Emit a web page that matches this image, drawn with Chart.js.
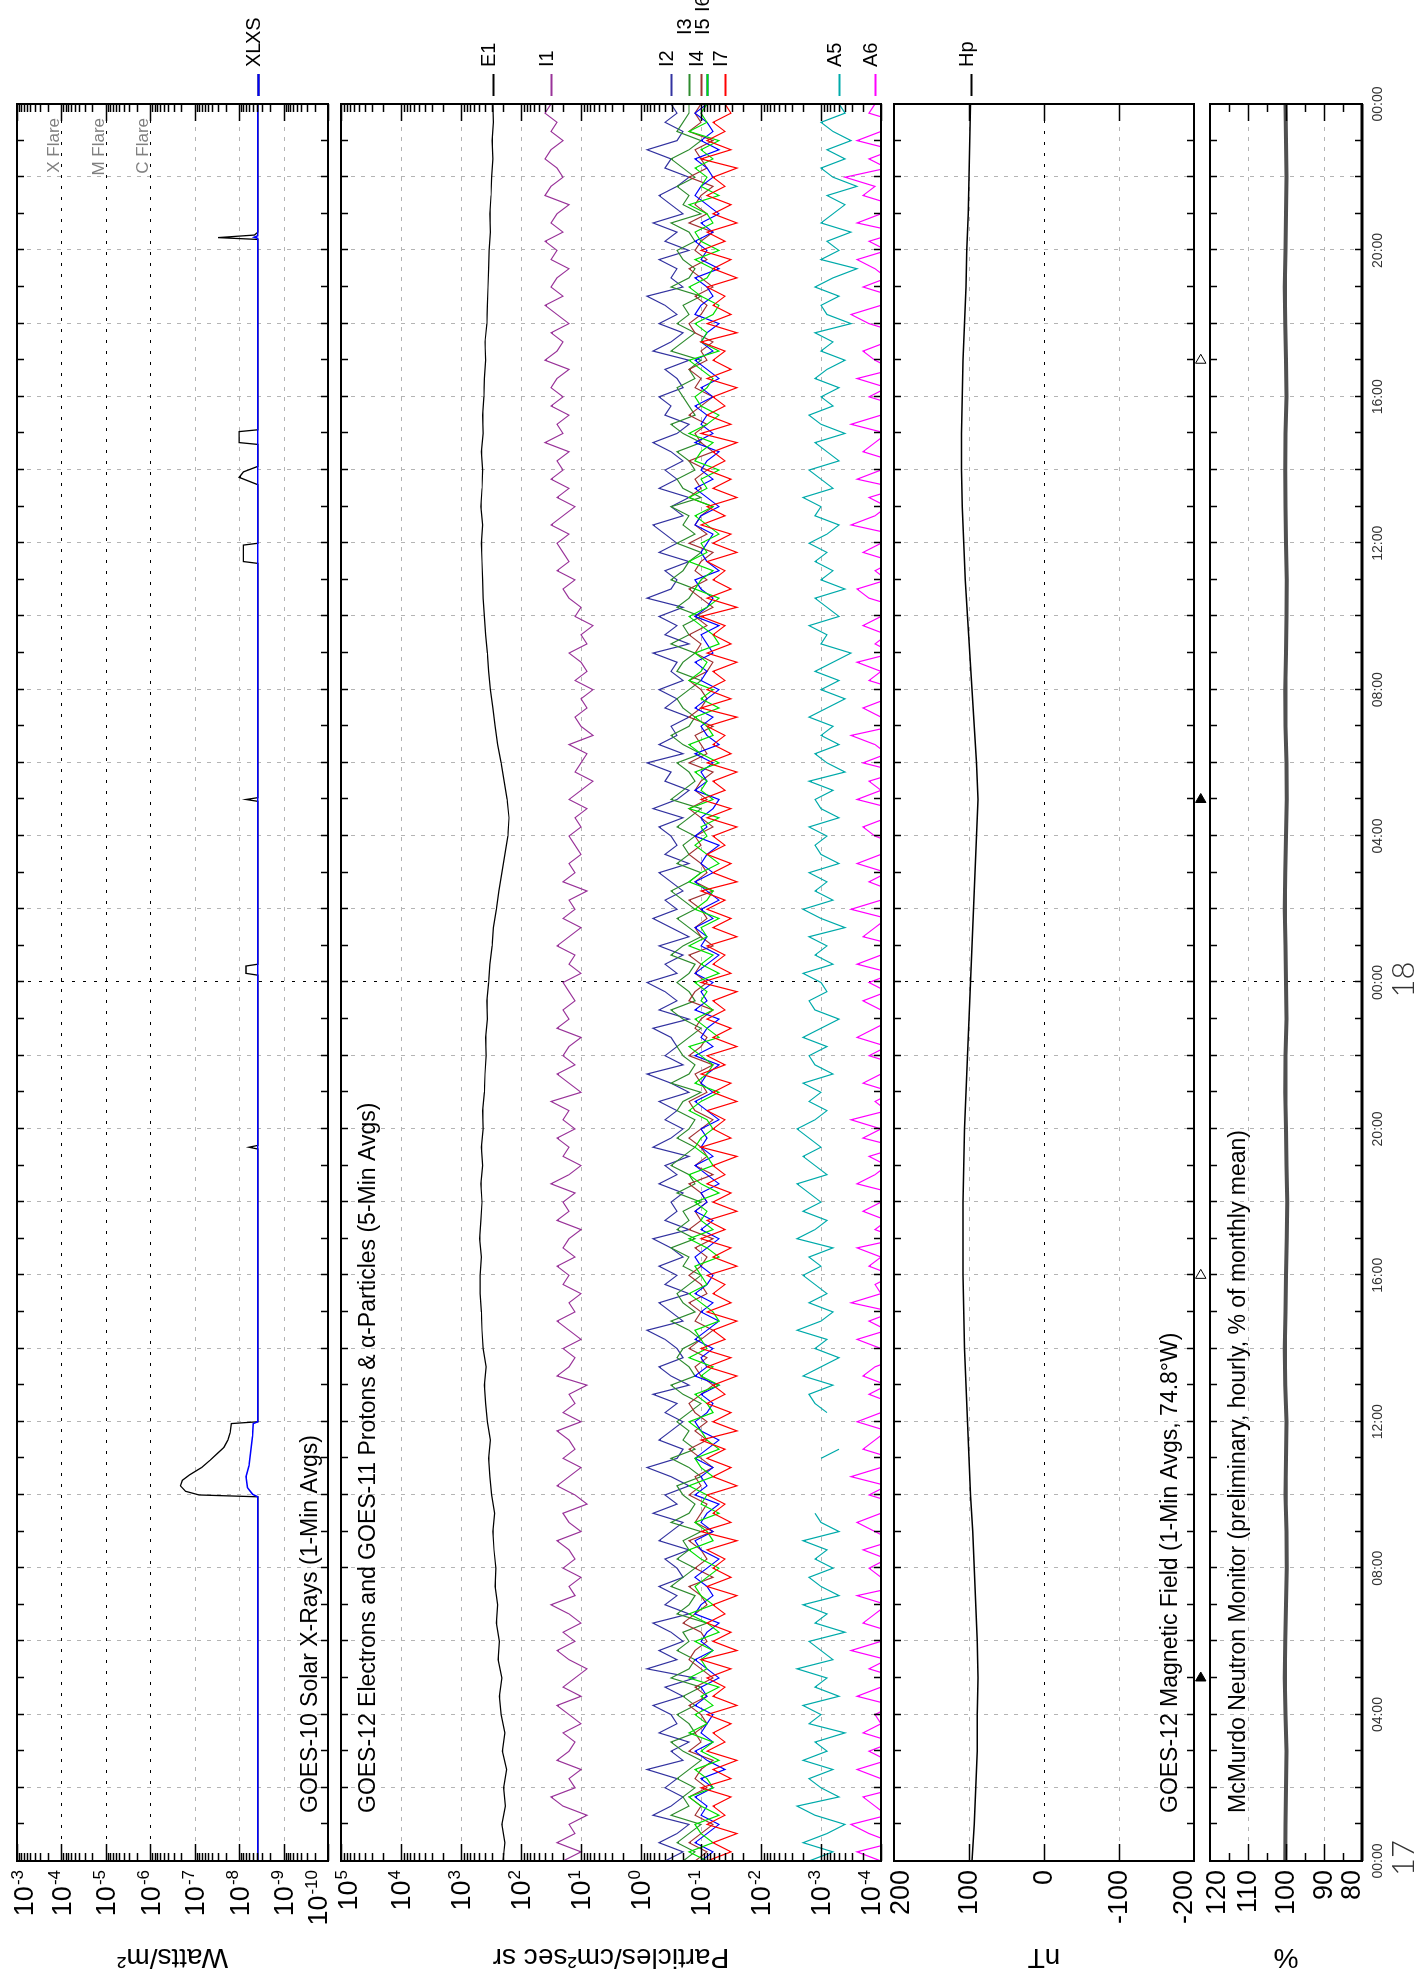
<!DOCTYPE html>
<html>
<head>
<meta charset="utf-8">
<title>GOES Space Environment Monitor</title>
<script src="https://cdn.jsdelivr.net/npm/chart.js@4/dist/chart.umd.min.js"></script>
<style>
  html, body { margin: 0; padding: 0; background: #fff; }
  /* the chart is laid out landscape, then turned a quarter turn left */
  #frame {
    position: absolute; left: 0; top: 0;
    width: 1976px; height: 1416px;
    transform-origin: 0 0;
    transform: translate(0px, 1976px) rotate(-90deg);
    background: #fff; overflow: hidden;
  }
  #frame canvas { position: absolute; left: 0; top: 0; }
</style>
</head>
<body>
<div id="frame">
  <canvas id="c-xray" width="1976" height="1416"></canvas>
  <canvas id="c-part" width="1976" height="1416"></canvas>
  <canvas id="c-mag" width="1976" height="1416"></canvas>
  <canvas id="c-neut" width="1976" height="1416"></canvas>
</div>
<script>
/* ---- data (time in hours from 00:00 UT on day 17) ---- */

const PARTICLE_STEP = 0.25;   // hours between particle samples
const E1_STEP = 0.5;
const HOURLY_STEP = 1;

// GOES-10 X-rays, W/m2
const xlHours = [0, 9.95, 10.0, 10.1, 10.25, 10.4, 10.55, 10.75, 10.95, 11.15, 11.3, 11.5, 11.7, 11.95, 12.0,
  19.45, 19.5, 19.55, 24.2, 24.25, 24.45, 24.5, 28.95, 29.0, 29.05,
  35.45, 35.5, 35.95, 36.0, 37.6, 37.8, 37.95, 38.1, 38.7, 38.75, 39.05, 39.1, 44.3, 44.35, 44.42, 44.5, 48];
const xlFlux = [3.8e-9, 3.8e-9, 8e-8, 1.6e-7, 2.1e-7, 1.9e-7, 1.3e-7, 7e-8, 4.5e-8, 3e-8, 2.2e-8, 1.8e-8, 1.6e-8, 1.5e-8, 3.8e-9,
  3.8e-9, 6e-9, 3.8e-9, 3.8e-9, 7e-9, 7e-9, 3.8e-9, 3.8e-9, 7e-9, 3.8e-9,
  3.8e-9, 8e-9, 8e-9, 3.8e-9, 3.8e-9, 1e-8, 8e-9, 3.8e-9, 3.8e-9, 1e-8, 1e-8, 3.8e-9, 3.8e-9, 3e-8, 4.5e-9, 3.8e-9, 3.8e-9];
const xsHours = [0, 9.95, 10.02, 10.2, 10.5, 10.8, 11.2, 11.6, 11.95, 12.0, 44.33, 44.36, 44.4, 48];
const xsFlux = [3.8e-9, 3.8e-9, 5e-9, 6.5e-9, 7e-9, 6e-9, 5.5e-9, 5e-9, 4.8e-9, 3.8e-9, 3.8e-9, 4.6e-9, 3.8e-9, 3.8e-9];

// E1 electrons, log10 x 100, every 30 min
const e1Log100 = [
  230,227,232,226,229,224,231,227, 233,236,232,238,236,241,239,243,
  242,245,247,244,249,252,254,251, 256,259,261,258,263,265,266,268,
  268,266,269,267,265,267,264,266, 263,264,261,260,258,259,256,257,
  254,252,248,246,241,237,232,227, 222,220,223,228,233,239,243,247,
  251,254,256,259,261,263,264,265, 266,264,267,265,264,266,263,264,
  262,261,259,260,257,256,255,254, 253,251,252,250,249,247,248,246,
  247];

// protons and alphas, log10 x 10, every 15 min
const i1Log10 = [
  13,10,14,11,12,9,13,15,11,12,10,14,12,11,13,10,
  12,14,10,13,11,9,12,14,11,13,10,12,15,11,12,10,
  13,11,12,14,10,12,13,9,11,14,12,10,13,11,12,14,
  10,13,11,12,9,14,12,11,13,10,12,14,11,12,10,13,
  12,14,11,13,12,10,14,12,13,11,15,12,10,13,12,14,
  11,13,12,15,10,12,14,11,13,12,10,14,12,13,11,12,
  13,10,12,11,14,12,10,13,11,12,9,13,11,12,10,11,
  12,10,11,9,12,10,8,11,10,9,12,8,10,11,9,10,
  8,11,9,10,12,9,10,8,11,10,12,13,11,14,12,13,
  14,12,15,13,11,14,12,15,13,14,12,16,13,14,12,15,
  13,15,14,12,16,14,13,15,12,14,16,13,15,14,12,15,
  14,16,13,15,14,12,16,15,13,14,16,15,13,15,14,16,
  15];
const i2Log10 = [
  -4,-7,-3,-6,-8,-2,-5,-7,-4,-6,-1,-7,-5,-8,-3,-6,
  -5,-2,-7,-4,-9,-1,-6,-3,-7,-5,-2,-8,-4,-6,-3,-7,
  -6,-4,-8,-3,-5,-7,-2,-6,-4,-8,-5,-1,-6,-7,-3,-5,
  -7,-4,-6,-2,-8,-5,-3,-7,-6,-4,-1,-7,-5,-3,-8,-4,
  -6,-3,-7,-5,-2,-8,-4,-6,-5,-7,-3,-6,-4,-8,-2,-5,
  -7,-4,-6,-3,-8,-5,-1,-7,-4,-6,-5,-2,-8,-3,-6,-4,
  -1,-6,-4,-7,-3,-8,-5,-2,-6,-4,-7,-5,-3,-8,-4,-6,
  -5,-3,-7,-2,-6,-8,-4,-5,-1,-7,-3,-6,-5,-8,-4,-6,
  -3,-7,-5,-6,-2,-8,-4,-6,-3,-7,-1,-5,-6,-4,-8,-3,
  -6,-4,-2,-7,-5,-8,-3,-6,-4,-7,-5,-2,-6,-8,-4,-5,
  -3,-7,-6,-4,-8,-2,-5,-7,-3,-6,-4,-1,-7,-5,-6,-3,
  -8,-4,-6,-2,-7,-5,-3,-6,-8,-4,-5,-1,-6,-7,-4,-6,
  -5];
const i3Log10 = [
  -7,-9,-6,-8,-10,-5,-8,-7,-9,-6,-8,-10,-7,-5,-9,-8,
  -6,-9,-7,-10,-5,-8,-9,-6,-8,-7,-11,-6,-8,-9,-5,-7,
  -9,-6,-8,-7,-10,-5,-8,-9,-7,-6,-10,-8,-5,-9,-7,-8,
  -6,-8,-10,-7,-5,-9,-8,-6,-7,-10,-8,-5,-9,-7,-6,-8,
  -10,-7,-8,-5,-9,-6,-8,-7,-10,-6,-9,-8,-5,-7,-9,-6,
  -8,-9,-6,-7,-10,-5,-8,-9,-7,-6,-8,-10,-7,-5,-9,-8,
  -6,-8,-9,-5,-7,-10,-8,-6,-9,-7,-5,-8,-10,-6,-8,-7,
  -9,-6,-8,-10,-5,-7,-9,-8,-6,-10,-7,-5,-8,-9,-7,-6,
  -8,-10,-6,-7,-9,-5,-8,-7,-10,-6,-8,-9,-5,-7,-8,-10,
  -6,-9,-7,-8,-5,-10,-7,-6,-9,-8,-6,-10,-7,-5,-9,-8,
  -7,-6,-9,-8,-10,-5,-7,-9,-6,-8,-7,-10,-5,-8,-9,-7,
  -6,-9,-8,-5,-10,-7,-8,-6,-9,-7,-5,-8,-10,-6,-7,-8,
  -8];
const i4Log10 = [
  -9,-11,-8,-10,-12,-9,-10,-8,-11,-9,-10,-12,-8,-10,-9,-11,
  -10,-8,-11,-9,-12,-10,-8,-9,-11,-10,-7,-9,-11,-10,-8,-12,
  -9,-11,-10,-8,-12,-9,-10,-11,-8,-10,-9,-12,-10,-8,-11,-9,
  -11,-9,-8,-10,-12,-10,-9,-11,-8,-10,-12,-9,-10,-8,-11,-10,
  -8,-10,-11,-9,-12,-8,-10,-9,-11,-10,-8,-12,-9,-11,-10,-8,
  -10,-12,-9,-8,-11,-10,-9,-12,-8,-10,-11,-9,-10,-12,-8,-9,
  -11,-9,-10,-8,-12,-10,-9,-11,-10,-8,-12,-9,-11,-10,-8,-10,
  -9,-12,-10,-8,-11,-9,-10,-12,-8,-11,-10,-9,-12,-8,-10,-11,
  -10,-8,-11,-12,-9,-10,-8,-11,-9,-12,-10,-8,-11,-9,-10,-12,
  -8,-11,-9,-10,-12,-8,-10,-9,-11,-8,-12,-10,-9,-11,-8,-10,
  -12,-9,-10,-8,-11,-10,-12,-9,-8,-10,-11,-9,-12,-10,-8,-11,
  -9,-10,-12,-8,-11,-9,-10,-12,-8,-11,-10,-9,-12,-8,-10,-9,
  -10];
const i5Log10 = [
  -10,-12,-9,-11,-13,-10,-11,-9,-12,-10,-14,-11,-9,-12,-10,-11,
  -12,-9,-11,-10,-13,-11,-9,-12,-10,-11,-13,-9,-10,-12,-11,-9,
  -11,-13,-10,-9,-12,-10,-11,-13,-9,-11,-10,-12,-9,-11,-13,-10,
  -9,-11,-12,-10,-13,-9,-11,-10,-12,-9,-11,-13,-10,-12,-9,-11,
  -12,-10,-9,-11,-13,-10,-12,-9,-11,-10,-13,-11,-9,-12,-10,-11,
  -10,-13,-11,-9,-12,-10,-11,-13,-9,-12,-10,-11,-13,-9,-11,-10,
  -12,-9,-11,-13,-10,-11,-9,-12,-10,-13,-11,-9,-12,-10,-11,-13,
  -9,-11,-10,-12,-13,-9,-11,-10,-12,-9,-13,-11,-10,-12,-9,-11,
  -13,-10,-11,-9,-12,-11,-10,-13,-9,-11,-12,-10,-9,-13,-11,-10,
  -11,-12,-9,-10,-13,-11,-9,-12,-10,-11,-13,-9,-12,-10,-11,-9,
  -12,-10,-13,-11,-9,-12,-10,-11,-13,-9,-10,-12,-11,-9,-13,-10,
  -11,-9,-12,-10,-13,-11,-9,-10,-12,-11,-9,-13,-10,-12,-11,-9,
  -11];
const i6Log10 = [
  -11,-8,-12,-10,-9,-13,-10,-8,-12,-11,-9,-13,-10,-12,-8,-11,
  -9,-12,-10,-13,-8,-11,-10,-12,-9,-13,-11,-8,-12,-10,-9,-11,
  -13,-10,-8,-12,-11,-9,-13,-10,-11,-8,-12,-10,-9,-13,-11,-10,
  -8,-12,-11,-9,-13,-10,-12,-8,-11,-10,-9,-13,-12,-10,-8,-11,
  -10,-9,-13,-11,-8,-12,-10,-11,-9,-13,-10,-8,-12,-11,-9,-10,
  -12,-11,-8,-10,-13,-9,-11,-12,-10,-8,-13,-11,-9,-12,-10,-11,
  -9,-13,-10,-12,-8,-11,-10,-13,-9,-11,-12,-8,-10,-13,-11,-9,
  -11,-10,-13,-8,-12,-10,-11,-9,-13,-10,-8,-12,-11,-9,-13,-10,
  -12,-8,-10,-11,-9,-13,-12,-10,-8,-11,-13,-9,-10,-12,-8,-11,
  -10,-13,-11,-9,-12,-8,-11,-10,-13,-9,-10,-12,-8,-11,-13,-10,
  -9,-11,-12,-10,-8,-13,-10,-11,-9,-12,-13,-10,-8,-11,-12,-9,
  -13,-10,-9,-12,-11,-8,-13,-10,-11,-9,-12,-10,-13,-8,-11,-10,
  -11];
const i7Log10 = [
  -11,-15,-12,-16,-11,-14,-12,-15,-10,-15,-12,-16,-11,-14,-12,-15,
  -11,-16,-12,-14,-11,-15,-10,-16,-12,-15,-11,-14,-12,-16,-11,-15,
  -12,-14,-11,-16,-10,-15,-12,-14,-11,-16,-12,-15,-11,-14,-10,-16,
  -12,-15,-11,-14,-12,-16,-11,-15,-10,-14,-12,-16,-11,-15,-12,-14,
  -11,-16,-12,-15,-10,-14,-11,-16,-12,-15,-11,-14,-12,-16,-10,-15,
  -12,-14,-11,-16,-12,-15,-10,-14,-11,-16,-12,-15,-11,-14,-12,-16,
  -10,-15,-12,-14,-11,-16,-12,-15,-11,-14,-10,-16,-12,-15,-11,-14,
  -12,-16,-11,-15,-10,-14,-12,-16,-11,-15,-12,-14,-11,-16,-10,-15,
  -11,-14,-12,-16,-11,-15,-12,-14,-10,-16,-11,-15,-12,-14,-11,-16,
  -12,-15,-10,-14,-11,-16,-12,-15,-11,-14,-12,-16,-10,-15,-11,-14,
  -12,-16,-11,-15,-12,-14,-10,-16,-11,-15,-12,-14,-11,-16,-12,-15,
  -10,-14,-11,-16,-12,-15,-11,-14,-12,-16,-10,-15,-11,-14,-12,-15,
  -14];
const a5Log10 = [
  -28,-32,-27,-31,-34,-29,-26,-33,-30,-28,-32,-27,-31,-29,-34,-28,
  -30,-27,-33,-29,-31,-26,-32,-30,-28,-34,-29,-31,-27,-33,-30,-28,
  -32,-29,-31,-27,-33,-30,-29,null,null,-31,null,null,-30,-33,null,null,
  null,-31,-29,-28,-32,-27,-30,-33,-29,-31,-26,-30,-32,-28,-31,-29,
  -27,-30,-28,-32,-26,-29,-31,-27,-30,-28,-26,-31,-29,-27,-30,-28,
  -26,-29,-31,-28,-30,-27,-32,-29,-28,-31,-27,-30,-33,-29,-28,-31,
  -30,-27,-32,-29,-31,-28,-34,-30,-27,-32,-29,-31,-28,-33,-30,-29,
  -31,-28,-33,-30,-29,-32,-28,-34,-31,-29,-33,-30,-32,-28,-31,-34,
  -30,-33,-29,-32,-35,-30,-31,-28,-33,-31,-29,-34,-30,-32,-29,-31,
  -28,-31,-33,-29,-30,-27,-32,-30,-28,-33,-31,-29,-34,-30,-28,-32,
  -30,-33,-29,-31,-34,-30,-32,-29,-35,-31,-30,-33,-29,-32,-36,-30,
  -33,-31,-35,-30,-32,-34,-31,-36,-32,-30,-34,-31,-35,-32,-30,-34,
  -33];
const a6Log10 = [
  -40,-36,-42,-38,-35,-41,-39,-37,-43,-40,-36,-41,-38,-42,-37,-40,
  -39,-42,-36,-40,-43,-38,-41,-35,-40,-42,-37,-39,-41,-36,-43,-40,
  -38,-41,-37,-42,-39,-36,-40,-43,-38,-41,-35,-40,-42,-37,-39,-41,
  -36,-40,-42,-38,-41,-37,-39,-43,-40,-36,-41,-38,-42,-35,-40,-39,
  -42,-38,-40,-36,-43,-39,-41,-37,-40,-42,-36,-39,-41,-38,-43,-37,
  -40,-35,-41,-39,-42,-37,-40,-43,-38,-41,-36,-39,-42,-40,-37,-41,
  -38,-42,-36,-40,-43,-37,-39,-41,-35,-40,-42,-38,-41,-36,-40,-43,
  -39,-37,-41,-42,-36,-40,-38,-43,-37,-41,-39,-35,-42,-40,-37,-41,
  -43,-38,-40,-36,-42,-39,-41,-37,-40,-43,-38,-36,-41,-39,-42,-37,
  -40,-42,-35,-39,-41,-38,-43,-36,-40,-42,-37,-39,-41,-35,-40,-43,
  -38,-41,-36,-42,-39,-37,-41,-43,-38,-35,-40,-42,-37,-41,-39,-36,
  -41,-38,-43,-36,-40,-42,-37,-39,-34,-41,-38,-42,-36,-40,-43,-38,
  -39];

// GOES-12 Hp, nT, hourly
const hpNT = [96,93,91,89,89,88,89,91,93,95,98,100,102,104,106,107,108,108,108,107,106,104,102,100,
  98,96,94,92,90,88,90,93,96,99,102,105,107,109,110,110,109,108,106,104,103,101,100,99,98];

// McMurdo neutron monitor, % of monthly mean, hourly
const neutronPct = [100.2,100.1,100.0,99.9,100.1,100.3,100.2,100.0,99.8,99.9,
  100.1,100.0,99.9,100.2,100.3,100.1,100.0,99.8,99.7,99.9,
  100.0,100.2,100.1,99.9,100.0,100.1,100.3,100.2,100.0,99.8,
  99.9,100.1,100.2,100.0,99.9,99.8,100.0,100.1,100.2,100.1,
  99.9,100.0,100.2,100.3,100.1,100.0,99.9,100.0,100.1];

// local midnight (filled) and noon (open) markers under the Hp panel
const midnightHours = [5, 29];
const noonHours = [16, 41];
const MARKER_NT = -209;

// axis labels
const timeTickHours = [0, 4, 8, 12, 16, 20, 24, 28, 32, 36, 40, 44, 48];
const timeTickLabels = ['00:00','04:00','08:00','12:00','16:00','20:00','00:00','04:00','08:00','12:00','16:00','20:00','00:00'];
const dayLabelHours = [0, 24];
const dayLabels = ['17', '18'];
const xrayExponents = [-3, -4, -5, -6, -7, -8, -9, -10];
const particleExponents = [5, 4, 3, 2, 1, 0, -1, -2, -3, -4];
const magTicks = [200, 100, 0, -100, -200];
const neutronTicks = [120, 110, 100, 90, 80];
const flareLevels = [1e-4, 1e-5, 1e-6];
const flareNames = ['X Flare', 'M Flare', 'C Flare'];

/* ---- layout (landscape frame, before the rotation) ---- */
const CANVAS_W = 1976, CANVAS_H = 1416;
const PLOT_LEFT = 115, PLOT_RIGHT = 1872;
const FONT = '"Liberation Sans", Arial, Helvetica, sans-serif';
const LABEL_RIGHT = 106;
const LEGEND_X = [0, 1909, 1941, 1964];

const fromTenths = v => Math.pow(10, v / 10);
const fromHundredths = v => Math.pow(10, v / 100);

function pointsFromSteps(values, step, conv) {
  return values.map((v, k) => ({ x: k * step, y: v === null ? null : conv(v) }));
}
function pointsFromHours(hours, values) {
  return hours.map((h, k) => ({ x: h, y: values[k] }));
}
function lastValue(values) {
  for (let k = values.length - 1; k >= 0; k--) { if (values[k] !== null) { return values[k]; } }
  return null;
}
function lineSet(points, color, width, order) {
  return { data: points, borderColor: color, backgroundColor: color, borderWidth: width,
    pointRadius: 0, pointHoverRadius: 0, tension: 0, spanGaps: false, order: order };
}
function strokeLine(ctx, x1, y1, x2, y2) {
  ctx.beginPath(); ctx.moveTo(x1, y1); ctx.lineTo(x2, y2); ctx.stroke();
}

function decorPlugin(d) {
  return {
    id: 'decor',
    beforeDatasetsDraw(chart) {
      const ctx = chart.ctx, a = chart.chartArea, x = chart.scales.x, y = chart.scales.y;
      ctx.save();
      ctx.lineWidth = 1;
      for (let h = 2; h < 48; h += 2) {
        const px = Math.round(x.getPixelForValue(h)) + 0.5;
        const dark = h === 24;
        ctx.strokeStyle = dark ? '#000' : '#b4b4b4';
        ctx.setLineDash(dark ? [3, 8] : [4, 6]);
        strokeLine(ctx, px, a.top, px, a.bottom);
      }
      d.grid.forEach(g => {
        const py = Math.round(y.getPixelForValue(g.v)) + 0.5;
        ctx.strokeStyle = g.dark ? '#000' : '#b4b4b4';
        ctx.setLineDash(g.dark ? [3, 8] : [4, 6]);
        strokeLine(ctx, a.left, py, a.right, py);
      });
      ctx.restore();
    },
    afterDatasetsDraw(chart) {
      const ctx = chart.ctx, a = chart.chartArea, x = chart.scales.x, y = chart.scales.y;
      ctx.save();
      ctx.setLineDash([]);
      ctx.strokeStyle = '#000';
      // hour ticks on top and bottom edges
      ctx.lineWidth = 1.5;
      for (let h = 1; h < 48; h++) {
        const px = Math.round(x.getPixelForValue(h)) + 0.5;
        strokeLine(ctx, px, a.top, px, a.top + 7);
        strokeLine(ctx, px, a.bottom, px, a.bottom - 7);
      }
      // value ticks on both sides
      const tick = (v, len) => {
        const py = Math.round(y.getPixelForValue(v)) + 0.5;
        strokeLine(ctx, a.left, py, a.left + len, py);
        strokeLine(ctx, a.right, py, a.right - len, py);
      };
      d.majors.forEach(v => tick(v, 17));
      d.minors.forEach(v => tick(v, 8));
      // frame
      ctx.lineWidth = 2;
      ctx.strokeRect(a.left, a.top, a.right - a.left, a.bottom - a.top);
      if (d.timeAxis) {
        ctx.lineWidth = 3;
        strokeLine(ctx, a.left, a.bottom, a.right, a.bottom);
      }

      // tick labels
      ctx.fillStyle = '#000';
      d.labels.forEach(lab => {
        const py = y.getPixelForValue(lab.v);
        const cy = Math.min(Math.max(py, a.top + 7), a.bottom - 10);
        if (lab.exp !== undefined) {
          ctx.font = '17px ' + FONT;
          const w = ctx.measureText(lab.exp).width;
          ctx.textAlign = 'left'; ctx.textBaseline = 'alphabetic';
          ctx.fillText(lab.exp, LABEL_RIGHT - w, cy - 1);
          ctx.font = '27px ' + FONT;
          ctx.textAlign = 'right'; ctx.textBaseline = 'middle';
          ctx.fillText('10', LABEL_RIGHT - w - 1, cy + 2);
        } else {
          ctx.font = '27px ' + FONT;
          ctx.textAlign = 'right'; ctx.textBaseline = 'middle';
          ctx.fillText(lab.text, LABEL_RIGHT, cy + 1);
        }
      });

      // axis title, reading upward
      ctx.save();
      ctx.translate(19, (a.top + a.bottom) / 2);
      ctx.rotate(-Math.PI / 2);
      ctx.font = '28px ' + FONT;
      ctx.textAlign = 'center'; ctx.textBaseline = 'middle';
      ctx.fillText(d.axisTitle, 0, 0);
      ctx.restore();

      // panel caption
      ctx.font = '23px ' + FONT;
      ctx.textAlign = 'left'; ctx.textBaseline = 'alphabetic';
      ctx.fillText(d.caption, 163, d.captionY);

      // flare class notes
      if (d.notes) {
        ctx.fillStyle = '#808080';
        ctx.font = '17px ' + FONT;
        ctx.textAlign = 'right';
        d.notes.forEach(n => ctx.fillText(n.text, 1858, Math.round(y.getPixelForValue(n.v)) - 2));
      }

      // end-of-line labels
      d.legend.forEach(l => {
        const py = Math.round(y.getPixelForValue(l.v)) + 0.5;
        ctx.strokeStyle = l.color; ctx.lineWidth = 2;
        strokeLine(ctx, 1880, py, 1902, py);
        ctx.fillStyle = '#000';
        ctx.font = '20px ' + FONT;
        ctx.textAlign = 'left'; ctx.textBaseline = 'alphabetic';
        ctx.fillText(l.text, l.x || LEGEND_X[l.level], py + 1);
      });

      // time axis text under the last panel
      if (d.timeAxis) {
        ctx.fillStyle = '#333';
        ctx.font = '14px ' + FONT;
        ctx.textAlign = 'center'; ctx.textBaseline = 'middle';
        timeTickHours.forEach((h, k) => ctx.fillText(timeTickLabels[k], x.getPixelForValue(h), 1378));
        ctx.font = '300 31px Lato, ' + FONT;
        dayLabelHours.forEach((h, k) => ctx.fillText(dayLabels[k], x.getPixelForValue(h) + 3, 1404));
      }
      ctx.restore();
    }
  };
}

function makePanel(id, top, bottom, yScale, datasets, decor) {
  return new Chart(document.getElementById(id).getContext('2d'), {
    type: 'line',
    data: { datasets: datasets },
    options: {
      responsive: false, animation: false, events: [],
      layout: { padding: { left: PLOT_LEFT, right: CANVAS_W - PLOT_RIGHT, top: top, bottom: CANVAS_H - bottom } },
      plugins: { legend: { display: false }, tooltip: { enabled: false } },
      scales: {
        x: { type: 'linear', min: 0, max: 48, display: false },
        y: Object.assign({ display: false }, yScale)
      }
    },
    plugins: [decorPlugin(decor)]
  });
}

function logMinors(fromExp, toExp) {
  const out = [];
  for (let e = fromExp; e < toExp; e++) { for (let m = 2; m <= 9; m++) { out.push(m * Math.pow(10, e)); } }
  return out;
}

/* ---- panel 1: X-rays ---- */
makePanel('c-xray', 17, 328, { type: 'logarithmic', min: 1e-10, max: 1e-3 }, [
  lineSet(pointsFromHours(xlHours, xlFlux), '#000000', 1.3, 0),
  lineSet(pointsFromHours(xsHours, xsFlux), '#0000ff', 1.6, -1)
], {
  grid: [-4, -5, -6, -7, -8, -9].map(e => ({ v: Math.pow(10, e), dark: e >= -6 })),
  majors: xrayExponents.map(e => Math.pow(10, e)),
  minors: logMinors(-10, -3),
  labels: xrayExponents.map(e => ({ v: Math.pow(10, e), exp: String(e) })),
  axisTitle: 'Watts/m\u00B2',
  caption: 'GOES-10 Solar X-Rays (1-Min Avgs)', captionY: 317,
  notes: flareLevels.map((v, k) => ({ v: v, text: flareNames[k] })),
  legend: [
    { text: 'XL', color: '#000000', v: lastValue(xlFlux), level: 1 },
    { text: 'XS', color: '#0000ff', v: lastValue(xsFlux), x: 1932 }
  ]
});

/* ---- panel 2: particles ---- */
const particleSeries = [
  { name: 'E1', color: '#000000', pts: pointsFromSteps(e1Log100, E1_STEP, fromHundredths), last: fromHundredths(lastValue(e1Log100)), level: 1 },
  { name: 'I1', color: '#993399', pts: pointsFromSteps(i1Log10, PARTICLE_STEP, fromTenths), last: fromTenths(lastValue(i1Log10)), level: 1 },
  { name: 'I2', color: '#3333a0', pts: pointsFromSteps(i2Log10, PARTICLE_STEP, fromTenths), last: fromTenths(lastValue(i2Log10)), level: 1 },
  { name: 'I3', color: '#2e8b2e', pts: pointsFromSteps(i3Log10, PARTICLE_STEP, fromTenths), last: fromTenths(lastValue(i3Log10)), level: 2 },
  { name: 'I4', color: '#a03232', pts: pointsFromSteps(i4Log10, PARTICLE_STEP, fromTenths), last: fromTenths(lastValue(i4Log10)), level: 1 },
  { name: 'I5', color: '#0000ff', pts: pointsFromSteps(i5Log10, PARTICLE_STEP, fromTenths), last: fromTenths(lastValue(i5Log10)), level: 2 },
  { name: 'I6', color: '#00e000', pts: pointsFromSteps(i6Log10, PARTICLE_STEP, fromTenths), last: fromTenths(lastValue(i6Log10)), level: 3 },
  { name: 'I7', color: '#ff0000', pts: pointsFromSteps(i7Log10, PARTICLE_STEP, fromTenths), last: fromTenths(lastValue(i7Log10)), level: 1 },
  { name: 'A5', color: '#00aaaa', pts: pointsFromSteps(a5Log10, PARTICLE_STEP, fromTenths), last: fromTenths(lastValue(a5Log10)), level: 1 },
  { name: 'A6', color: '#ff00ff', pts: pointsFromSteps(a6Log10, PARTICLE_STEP, fromTenths), last: fromTenths(lastValue(a6Log10)), level: 1 }
];
makePanel('c-part', 341, 881, { type: 'logarithmic', min: 1e-4, max: 1e5 },
  particleSeries.map((s, i) => lineSet(s.pts, s.color, 1.2, -i)), {
  grid: [4, 3, 2, 1, 0, -1, -2, -3].map(e => ({ v: Math.pow(10, e), dark: false })),
  majors: particleExponents.map(e => Math.pow(10, e)),
  minors: logMinors(-4, 5),
  labels: particleExponents.map(e => ({ v: Math.pow(10, e), exp: String(e) })),
  axisTitle: 'Particles/cm\u00B2sec sr',
  caption: 'GOES-12 Electrons and GOES-11 Protons & \u03B1-Particles (5-Min Avgs)', captionY: 375,
  legend: particleSeries.map(s => ({ text: s.name, color: s.color, v: s.last, level: s.level }))
});

/* ---- panel 3: magnetic field ---- */
const markerSet = (hours, fill) => ({
  data: hours.map(h => ({ x: h, y: MARKER_NT })), showLine: false, clip: false,
  pointStyle: 'triangle', pointRotation: 90, pointRadius: 6, pointHoverRadius: 6,
  pointBackgroundColor: fill, pointBorderColor: '#000', pointBorderWidth: 1
});
makePanel('c-mag', 894, 1194, { type: 'linear', min: -200, max: 200 }, [
  lineSet(pointsFromSteps(hpNT, HOURLY_STEP, v => v), '#000000', 1.3, 0),
  markerSet(midnightHours, '#000'),
  markerSet(noonHours, '#fff')
], {
  grid: [{ v: 100, dark: false }, { v: 0, dark: true }, { v: -100, dark: false }],
  majors: [100, 0, -100],
  minors: [],
  labels: magTicks.map(v => ({ v: v, text: String(v) })),
  axisTitle: 'nT',
  caption: 'GOES-12 Magnetic Field (1-Min Avgs, 74.8\u00B0W)', captionY: 1177,
  legend: [{ text: 'Hp', color: '#000000', v: lastValue(hpNT), level: 1 }]
});

/* ---- panel 4: neutron monitor ---- */
makePanel('c-neut', 1210, 1362, { type: 'linear', min: 80, max: 120 }, [
  lineSet(pointsFromSteps(neutronPct, HOURLY_STEP, v => v), '#505050', 4, 0)
], {
  grid: [{ v: 110, dark: false }, { v: 100, dark: false }, { v: 90, dark: false }],
  majors: [110, 100, 90],
  minors: [115, 105, 95, 85],
  labels: neutronTicks.map(v => ({ v: v, text: String(v) })),
  axisTitle: '%',
  caption: 'McMurdo Neutron Monitor (preliminary, hourly, % of monthly mean)', captionY: 1245,
  legend: [],
  timeAxis: true
});
</script>
</body>
</html>
